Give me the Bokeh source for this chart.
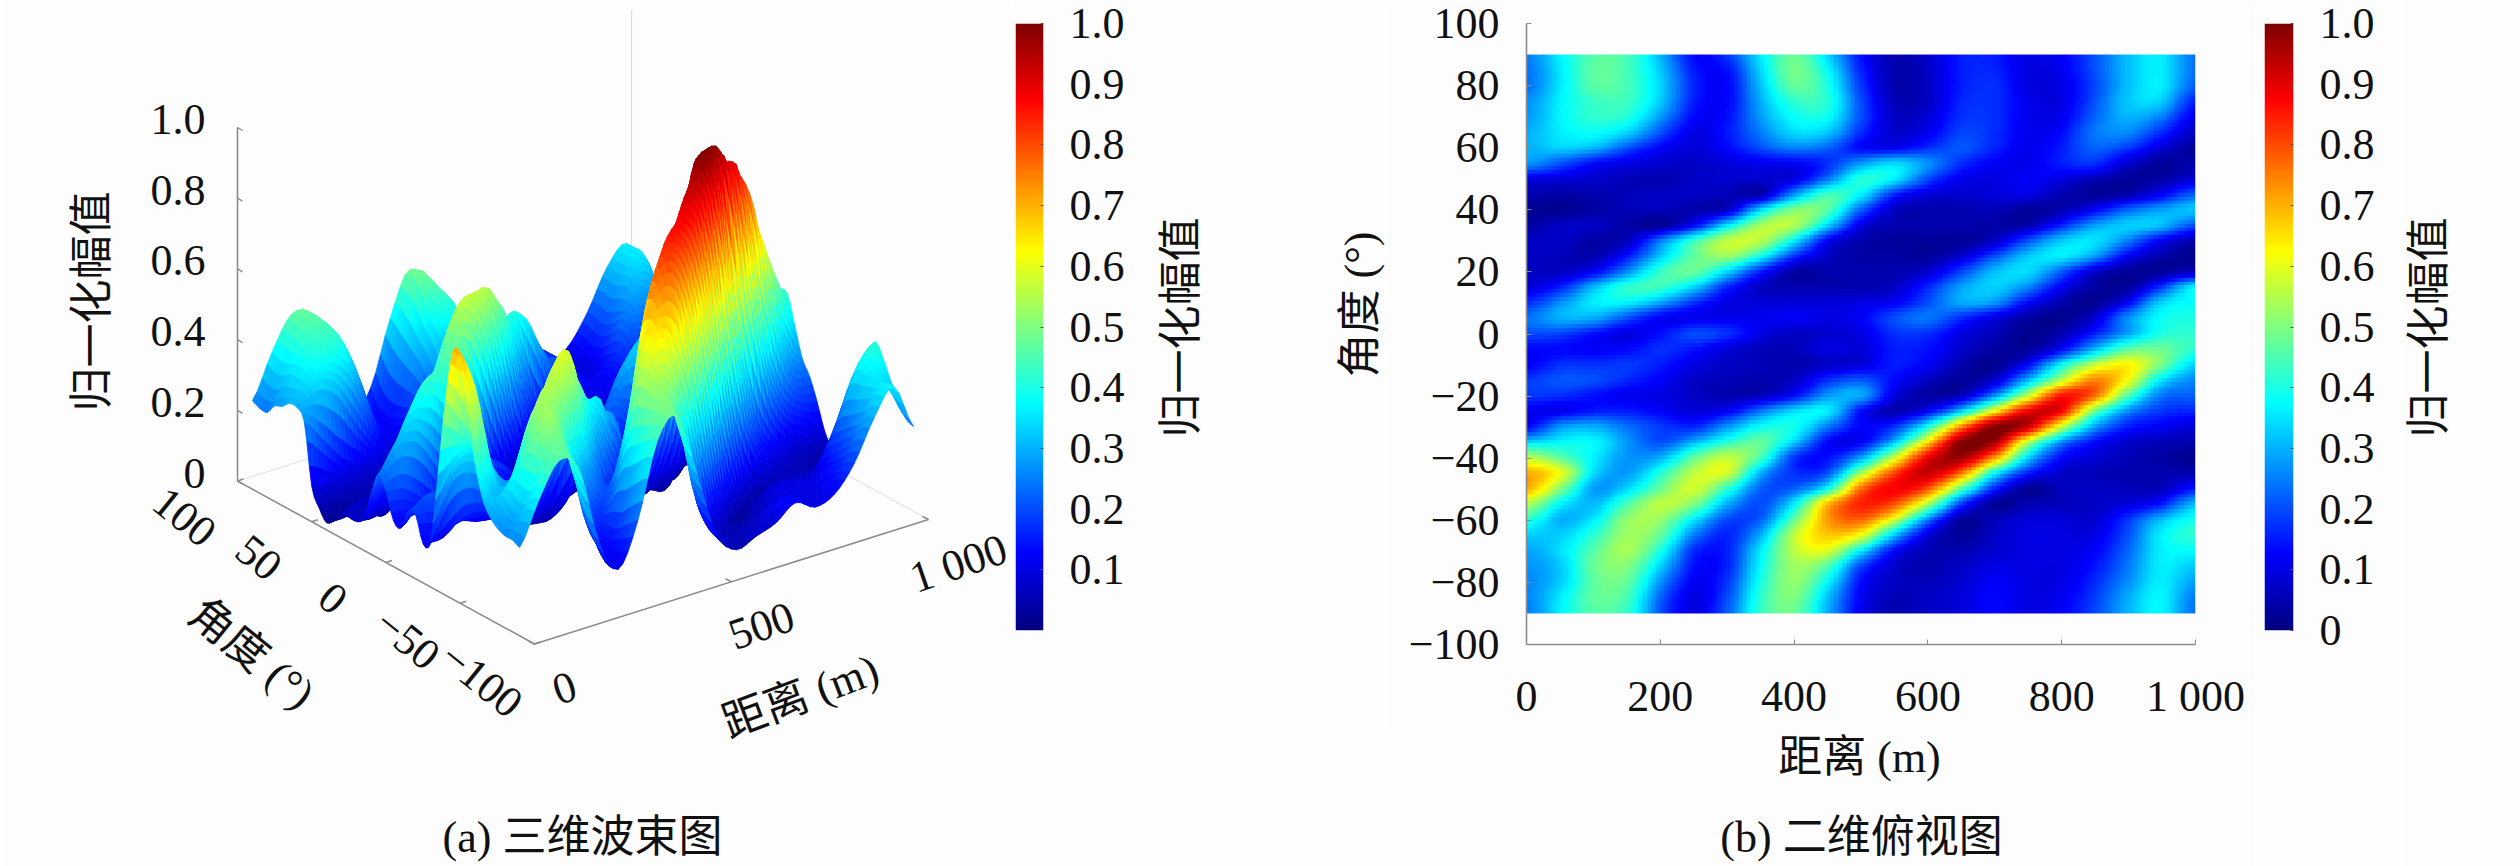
import numpy as np
from bokeh.core.properties import value
from bokeh.embed import file_html
from bokeh.layouts import column, row
from bokeh.models import ColumnDataSource, FixedTicker, Label, LinearColorMapper, Range1d
from bokeh.plotting import figure
from bokeh.resources import INLINE

# ---- data: normalised amplitude per angle, one value per range step
range_m = list(range(0, 1001, 50))
angle_deg = list(range(90, -91, -5))
a_p90 = [.25,.37,.46,.44,.30,.13,.18,.36,.48,.34,.14,.05,.08,.15,.15,.10,.12,.20,.31,.36,.24]
a_p85 = [.24,.36,.47,.44,.32,.15,.14,.34,.49,.38,.16,.05,.07,.15,.16,.10,.11,.20,.31,.36,.24]
a_p80 = [.24,.36,.46,.44,.33,.16,.13,.32,.47,.40,.18,.05,.07,.15,.17,.10,.10,.19,.31,.36,.22]
a_p75 = [.27,.37,.43,.43,.32,.15,.13,.30,.42,.41,.20,.06,.07,.16,.17,.11,.10,.20,.32,.33,.16]
a_p70 = [.28,.37,.42,.40,.27,.13,.14,.28,.38,.38,.20,.07,.09,.17,.17,.11,.11,.22,.30,.25,.11]
a_p65 = [.30,.36,.38,.33,.20,.10,.15,.25,.34,.32,.17,.08,.11,.19,.17,.11,.13,.24,.26,.17,.07]
a_p60 = [.30,.33,.30,.20,.12,.09,.13,.20,.25,.22,.13,.12,.17,.21,.16,.11,.15,.22,.18,.09,.03]
a_p55 = [.27,.20,.13,.10,.08,.07,.09,.11,.12,.17,.28,.34,.27,.17,.12,.11,.15,.17,.08,.03,.05]
a_p50 = [.10,.09,.08,.06,.05,.07,.08,.08,.10,.24,.41,.36,.20,.11,.10,.12,.10,.06,.03,.04,.08]
a_p45 = [.05,.04,.05,.06,.07,.07,.06,.06,.28,.44,.36,.16,.09,.08,.09,.10,.05,.03,.05,.12,.22]
a_p40 = [.02,.02,.04,.06,.06,.05,.08,.34,.50,.46,.22,.07,.05,.05,.06,.03,.05,.12,.22,.28,.32]
a_p35 = [.04,.07,.07,.04,.03,.14,.36,.54,.54,.33,.10,.05,.05,.05,.04,.05,.16,.28,.33,.31,.20]
a_p30 = [.07,.07,.04,.07,.25,.43,.56,.55,.36,.12,.05,.03,.03,.03,.07,.20,.32,.35,.25,.12,.05]
a_p25 = [.07,.06,.05,.15,.33,.47,.52,.38,.17,.07,.04,.04,.03,.08,.20,.32,.36,.28,.12,.05,.02]
a_p20 = [.07,.07,.13,.27,.43,.47,.33,.15,.04,.05,.05,.05,.08,.19,.31,.34,.22,.08,.03,.03,.07]
a_p15 = [.09,.16,.31,.42,.43,.33,.16,.07,.05,.05,.05,.07,.16,.28,.33,.26,.12,.04,.03,.17,.36]
a_p10 = [.17,.27,.36,.36,.28,.17,.10,.09,.09,.09,.10,.12,.20,.29,.27,.13,.05,.02,.12,.33,.38]
a_p05 = [.24,.30,.29,.20,.12,.11,.11,.11,.12,.10,.12,.20,.24,.17,.10,.04,.02,.08,.26,.38,.40]
a_000 = [.20,.19,.14,.10,.14,.20,.17,.10,.07,.08,.10,.17,.17,.10,.06,.02,.05,.15,.28,.40,.42]
a_m05 = [.13,.13,.12,.13,.17,.14,.09,.06,.06,.10,.09,.15,.14,.08,.04,.03,.12,.30,.46,.48,.42]
a_m10 = [.12,.17,.17,.18,.15,.10,.07,.06,.05,.07,.09,.15,.12,.05,.02,.12,.36,.55,.63,.50,.34]
a_m15 = [.18,.21,.20,.16,.12,.07,.06,.05,.07,.17,.21,.13,.07,.03,.08,.30,.55,.74,.62,.36,.26]
a_m20 = [.18,.17,.14,.11,.10,.07,.05,.06,.13,.27,.29,.10,.04,.06,.25,.55,.84,.78,.47,.25,.22]
a_m25 = [.11,.11,.15,.15,.12,.09,.12,.24,.34,.36,.14,.05,.12,.32,.62,.88,.88,.50,.27,.18,.16]
a_m30 = [.13,.27,.29,.23,.18,.16,.27,.38,.39,.25,.13,.17,.38,.72,.98,.93,.60,.30,.16,.12,.09]
a_m35 = [.33,.37,.37,.27,.20,.30,.41,.47,.33,.13,.12,.31,.64,.98,.97,.58,.28,.14,.08,.06,.05]
a_m40 = [.55,.46,.36,.27,.30,.47,.56,.44,.18,.14,.28,.57,.88,.97,.74,.35,.14,.09,.06,.04,.02]
a_m45 = [.70,.60,.34,.28,.41,.56,.58,.30,.17,.20,.52,.80,.93,.78,.40,.17,.08,.06,.05,.05,.05]
a_m50 = [.70,.50,.28,.34,.48,.58,.42,.22,.22,.38,.76,.88,.80,.48,.17,.03,.06,.07,.06,.06,.14]
a_m55 = [.55,.37,.31,.45,.56,.50,.30,.20,.36,.68,.84,.80,.56,.20,.03,.05,.06,.07,.09,.14,.30]
a_m60 = [.42,.30,.36,.52,.52,.36,.20,.22,.47,.72,.78,.60,.27,.04,.06,.09,.09,.08,.17,.30,.39]
a_m65 = [.33,.33,.42,.53,.47,.25,.16,.30,.56,.68,.62,.33,.10,.03,.07,.10,.10,.10,.20,.36,.42]
a_m70 = [.29,.35,.46,.54,.40,.17,.16,.36,.56,.60,.38,.14,.06,.05,.08,.10,.10,.12,.22,.36,.38]
a_m75 = [.27,.33,.48,.50,.33,.14,.16,.38,.53,.46,.20,.08,.05,.07,.10,.10,.10,.14,.24,.36,.33]
a_m80 = [.26,.33,.47,.47,.27,.12,.18,.40,.52,.38,.14,.07,.06,.08,.12,.10,.10,.16,.26,.36,.29]
a_m85 = [.26,.36,.47,.44,.22,.10,.20,.42,.50,.32,.12,.06,.07,.09,.13,.10,.11,.18,.29,.37,.25]
a_m90 = [.25,.37,.46,.42,.20,.10,.22,.43,.48,.30,.11,.05,.07,.09,.13,.10,.12,.19,.30,.37,.24]

z_ticks = [0, 0.2, 0.4, 0.6, 0.8, 1.0]
z_labels = ["0", "0.2", "0.4", "0.6", "0.8", "1.0"]
a3_ticks = [100, 50, 0, -50, -100]
a3_labels = ["100", "50", "0", "\u221250", "\u2212100"]
r3_ticks = [0, 500, 1000]
r3_labels = ["0", "500", "1 000"]
xh_ticks = [0, 200, 400, 600, 800, 1000]
xh_labels = ["0", "200", "400", "600", "800", "1 000"]
yh_ticks = [-100, -80, -60, -40, -20, 0, 20, 40, 60, 80, 100]
yh_labels = ["\u2212100", "\u221280", "\u221260", "\u221240", "\u221220", "0", "20", "40", "60", "80", "100"]
cb_ticks = [0, 0.1, 0.2, 0.3, 0.4, 0.5, 0.6, 0.7, 0.8, 0.9, 1.0]
cb_labels = ["0", "0.1", "0.2", "0.3", "0.4", "0.5", "0.6", "0.7", "0.8", "0.9", "1.0"]

beam = np.array([a_p90,a_p85,a_p80,a_p75,a_p70,a_p65,a_p60,a_p55,a_p50,a_p45,a_p40,a_p35,a_p30,
                 a_p25,a_p20,a_p15,a_p10,a_p05,a_000,a_m05,a_m10,a_m15,a_m20,a_m25,a_m30,a_m35,
                 a_m40,a_m45,a_m50,a_m55,a_m60,a_m65,a_m70,a_m75,a_m80,a_m85,a_m90])
rng = np.array(range_m, float)
ang = np.array(angle_deg, float)

# ---- styling
BG = "#fdfdfd"
AXIS = "#8c8c8c"
FONT = "Liberation Serif, Noto Sans CJK SC"
TICK_PT = "44px"
LABEL_PT = "44px"
PAGE_H = 866


def jet_rgb(t):
    t = np.asarray(t, float)
    r = np.clip(1.5 - np.abs(4 * t - 3), 0, 1)
    g = np.clip(1.5 - np.abs(4 * t - 2), 0, 1)
    b = np.clip(1.5 - np.abs(4 * t - 1), 0, 1)
    return (np.stack([r, g, b], -1) * 255).astype(int)


JET = ["#%02x%02x%02x" % tuple(c) for c in jet_rgb(np.linspace(0, 1, 256))]


def refine_axis(t, n, axis):
    # smooth shading between table nodes for rendering only (the table itself is untouched)
    t = np.moveaxis(t, axis, 0)
    m = t.shape[0]
    s = np.linspace(0, m - 1, (m - 1) * n + 1)
    i = np.clip(np.floor(s).astype(int), 0, m - 2)
    f = s - i
    p0, p1, p2, p3_ = t[np.clip(i - 1, 0, m - 1)], t[i], t[i + 1], t[np.clip(i + 2, 0, m - 1)]
    f = f.reshape((-1,) + (1,) * (t.ndim - 1))
    out = 0.5 * (2 * p1 + (p2 - p0) * f + (2 * p0 - 5 * p1 + 4 * p2 - p3_) * f ** 2
                 + (3 * p1 - p0 - 3 * p2 + p3_) * f ** 3)
    return np.moveaxis(out, 0, axis)


def refine(t, nr, na):
    return np.clip(refine_axis(refine_axis(t, nr, 1), na, 0), 0, 1)


def base(width, height, left, right, top, bottom, xr, yr, **kw):
    p = figure(width=width, height=height, x_range=xr, y_range=yr, output_backend="svg",
               toolbar_location=None, min_border_left=left, min_border_right=right,
               min_border_top=top, min_border_bottom=bottom, background_fill_color=BG,
               border_fill_color=BG, **kw)
    p.outline_line_color = None
    p.grid.visible = False
    return p


def text_fig(x0, x1, y0, y1):
    return base(x1 - x0, y1 - y0, 0, 0, 0, 0, Range1d(x0, x1), Range1d(y1, y0),
                x_axis_location=None, y_axis_location=None)


def put(p, px, py, text, angle=0.0):
    # page-pixel placement inside a text figure whose frame fills the figure
    x0, y1 = p.x_range.start, p.y_range.start
    p.add_layout(Label(x=px - x0, y=y1 - py, x_units="screen", y_units="screen", text=text,
                       angle=angle, text_font=FONT, text_font_size=LABEL_PT, text_color="#111111",
                       text_align="center", text_baseline="middle"))


def style_axis(ax, standoff):
    ax.major_label_text_font = "Liberation Serif"
    ax.major_label_text_font_size = TICK_PT
    ax.major_label_text_color = "#111111"
    ax.major_label_standoff = standoff
    ax.major_tick_line_color = AXIS
    ax.minor_tick_line_color = None
    ax.major_tick_in = 5
    ax.major_tick_out = 0


# ---- (a) surface, orthographic projection of the same table
p3 = text_fig(0, 1012, 0, PAGE_H)


def proj(r, a, z):
    r, a, z = np.asarray(r, float), np.asarray(a, float), np.asarray(z, float)
    u, v = r / 1000.0, (a + 100.0) / 200.0
    return 534 + 394 * u - 297 * v, 643.5 - 124.5 * u - 163 * v - 353.5 * z


# back grid
bx, by = proj([0, 1000, 1000], [100, 100, -100], [0, 0, 0])
p3.line(bx, by, line_color="#e4e4e4", line_width=1.2)
tx, ty = proj([1000, 1000], [100, 100], [0, 0.98])
p3.line(tx, ty, line_color="#dcdcdc", line_width=1.2)

NR, NA = 4, 3
r_f = np.linspace(rng[0], rng[-1], (len(rng) - 1) * NR + 1)
a_f = np.linspace(ang[0], ang[-1], (len(ang) - 1) * NA + 1)
z_f = refine(beam, NR, NA)

xs, ys, cs = [], [], []
for i in range(len(a_f) - 1):              # far (high angle) first
    for j in range(len(r_f) - 2, -1, -1):  # far (long range) first
        rr = [r_f[j], r_f[j + 1], r_f[j + 1], r_f[j]]
        aa = [a_f[i], a_f[i], a_f[i + 1], a_f[i + 1]]
        zz = [z_f[i, j], z_f[i, j + 1], z_f[i + 1, j + 1], z_f[i + 1, j]]
        sx, sy = proj(rr, aa, zz)
        xs.append(sx.tolist())
        ys.append(sy.tolist())
        cs.append(JET[int(np.clip(np.mean(zz), 0, 1) * 255)])
p3.patches("xs", "ys", source=ColumnDataSource(dict(xs=xs, ys=ys, c=cs)), fill_color="c", line_color="c", line_width=0.8)

# axes drawn over the floor
zx, zy = proj([0, 0], [100, 100], [0, 1])
p3.line(zx, zy, line_color=AXIS, line_width=1.6)
ex, ey = proj([0, 0, 1000], [100, -100, -100], [0, 0, 0])
p3.line(ex, ey, line_color=AXIS, line_width=1.6)

zt = np.array(z_ticks, float)
x0, y0 = proj(0 * zt, 0 * zt + 100, zt)
p3.segment(x0, y0, x0 + 5, y0 + 3, line_color=AXIS, line_width=1.4)
p3.text(x0 - 32, y0 - 8, text=z_labels, text_font=value("Liberation Serif"), text_font_size=TICK_PT,
        text_align="right", text_baseline="middle", text_color="#111111")

at = np.array(a3_ticks, float)
x0, y0 = proj(0 * at, at, 0 * at)
p3.segment(x0, y0, x0 + 6, y0 - 2, line_color=AXIS, line_width=1.4)
p3.text(x0 - 53, y0 + 36, text=a3_labels, text_font=value("Liberation Serif"), text_font_size=TICK_PT,
        angle=-0.68, text_align="center", text_baseline="middle", text_color="#111111")

rt = np.array(r3_ticks, float)
x0, y0 = proj(rt, 0 * rt - 100, 0 * rt)
p3.segment(x0, y0, x0 - 6, y0 - 3, line_color=AXIS, line_width=1.4)
p3.text(x0 + 30, y0 + 44, text=r3_labels, text_font=value("Liberation Serif"), text_font_size=TICK_PT,
        angle=0.33, text_align="center", text_baseline="middle", text_color="#111111")

put(p3, 92, 301, "归一化幅值", np.pi / 2)
put(p3, 251, 653, "角度 (°)", -0.68)
put(p3, 800, 696, "距离 (m)", 0.36)
put(p3, 582, 837, "(a) 三维波束图")

# ---- colour bars
ramp = np.linspace(0, 1, 256).reshape(-1, 1)
mapper = LinearColorMapper(palette=JET, low=0, high=1)


def colorbar(width, left, right, ticks, standoff):
    p = base(width, PAGE_H, left, right, 23, PAGE_H - 630, Range1d(0, 1), Range1d(0, 1),
             x_axis_location=None, y_axis_location="right")
    p.image(image=[ramp], x=0, y=0, dw=1, dh=1, color_mapper=mapper)
    ax = p.yaxis[0]
    style_axis(ax, standoff)
    ax.axis_line_color = None
    ax.major_tick_line_color = "#555555"
    ax.major_tick_in = 3
    ax.ticker = FixedTicker(ticks=ticks)
    ax.major_label_overrides = {t: s for t, s in zip(cb_ticks, cb_labels)}
    return p


cb1 = colorbar(128, 3, 97, cb_ticks[1:], 26)
cb2 = colorbar(145, 9, 107, cb_ticks, 26)

strip1 = text_fig(1140, 1385, 0, PAGE_H)
put(strip1, 1181, 327, "归一化幅值", np.pi / 2)
put(strip1, 1360, 304, "角度 (°)", np.pi / 2)
strip2 = text_fig(2400, 2520, 0, PAGE_H)
put(strip2, 2429, 327, "归一化幅值", np.pi / 2)

# ---- (b) top view
ph = base(870, 730, 141, 60, 23, 730 - 644, Range1d(0, 1000), Range1d(-100, 100))
ph.image(image=[refine(beam, 8, 4)[::-1]], x=rng[0], y=ang[-1], dw=rng[-1] - rng[0], dh=ang[0] - ang[-1],
         color_mapper=mapper)
for ax, t, lab in ((ph.xaxis[0], xh_ticks, xh_labels), (ph.yaxis[0], yh_ticks, yh_labels)):
    style_axis(ax, 27)
    ax.axis_line_color = AXIS
    ax.axis_line_width = 1.6
    ax.ticker = FixedTicker(ticks=t)
    ax.major_label_overrides = {k: s for k, s in zip(t, lab)}
cap = text_fig(1385, 2255, 730, PAGE_H)
put(cap, 1859, 757, "距离 (m)")
put(cap, 1861, 837, "(b) 二维俯视图")

layout = row(column(p3), column(cb1), column(strip1), column(column(ph), column(cap), spacing=0),
             column(cb2), column(strip2), spacing=0)
open("out.html", "w").write(file_html(layout, INLINE))
